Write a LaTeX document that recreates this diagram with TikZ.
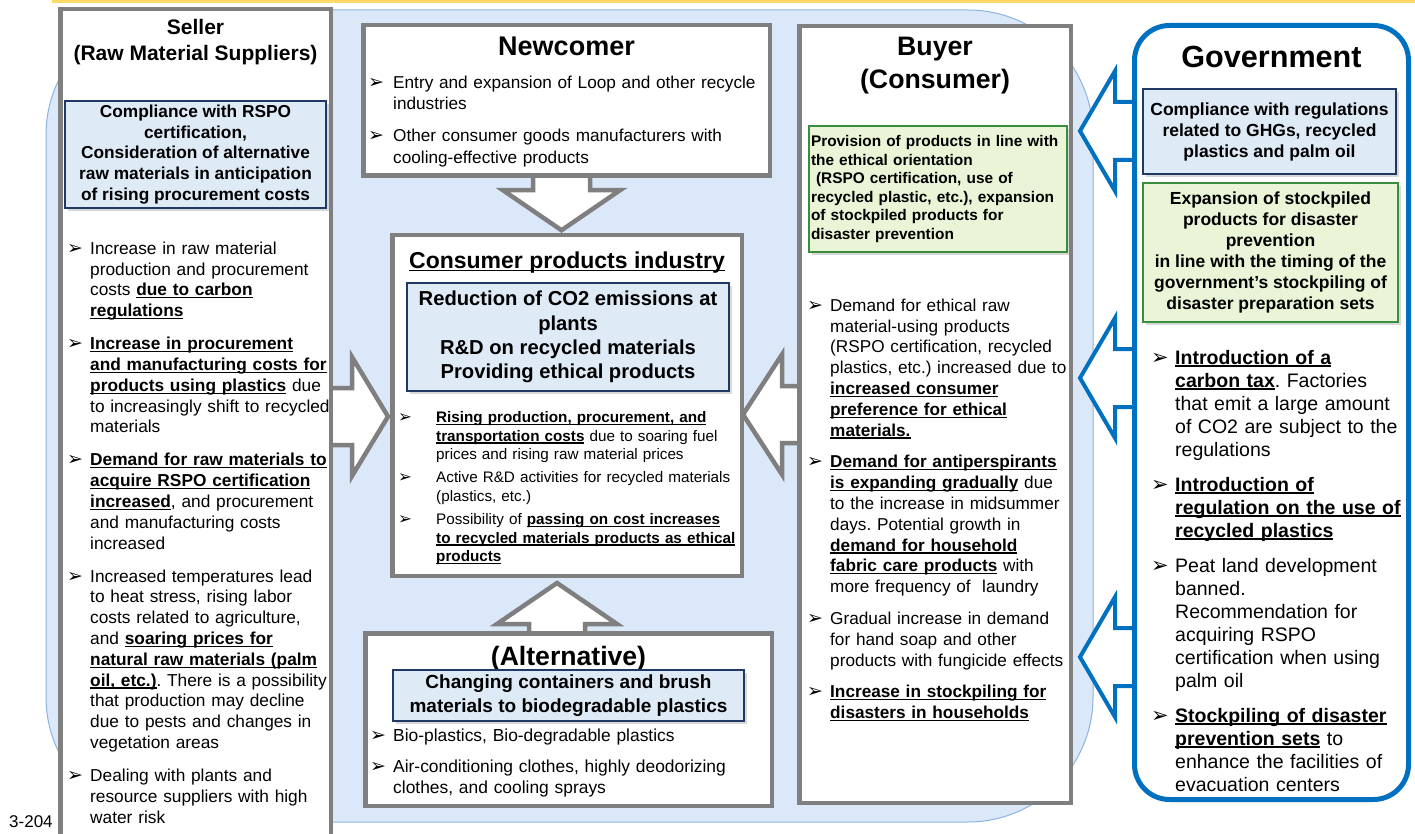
\documentclass[tikz,border=0pt]{standalone}
\usepackage{fontspec}
\setmainfont{Liberation Sans}
\newfontfamily\dv{DejaVu Sans}
\usetikzlibrary{calc,shadows}
\frenchspacing
\newsavebox\ulbox
\newcommand\myul[1]{\sbox\ulbox{#1}\rlap{\rule[-2.4pt]{\wd\ulbox}{1.1pt}}\usebox\ulbox}
\definecolor{bgblue}{HTML}{DAE8F9}
\definecolor{bgline}{HTML}{8DB3E2}
\definecolor{topyellow}{HTML}{FFD966}
\definecolor{boxgray}{HTML}{7F7F7F}
\definecolor{govblue}{HTML}{0070C0}
\definecolor{navy}{HTML}{1F3864}
\definecolor{lightblue}{HTML}{DEEBF7}
\definecolor{darkgreen}{HTML}{388E3C}
\definecolor{lightgreen}{HTML}{E9F5D6}
\pgfdeclarelayer{bglayer}
\pgfdeclarelayer{arrlayer}
\pgfsetlayers{bglayer,arrlayer,main}
\newlength\bulw
\def\bulsz{12}
\newcommand\bul{\makebox[\bulw][l]{\dv\fontsize{\bulsz}{\bulsz}\selectfont ➢}}
\newcommand\bitem[1]{\noindent\hangindent=\bulw\hangafter=1\strut\bul #1\par}
\newcommand\ubf[1]{{\bfseries\myul{#1}}}
\newcommand\blockarrow[6]{%
  \coordinate (bah) at ($(#3)!#6!(#2)$);
  \draw[#1] ($(#2)!#4!90:(#3)$) -- ($(bah)!#4!90:(#3)$) -- ($(bah)!#5!90:(#3)$) -- (#3)
     -- ($(bah)!#5!-90:(#3)$) -- ($(bah)!#4!-90:(#3)$) -- ($(#2)!#4!-90:(#3)$);}
\begin{document}
\begin{tikzpicture}[x=1pt,y=-1pt,
  graybox/.style={draw=boxgray, line width=4.5pt, fill=white, inner sep=0, outer sep=0, rectangle},
  govbox/.style={draw=govblue, line width=5pt, fill=white, inner sep=0, outer sep=0, rounded corners=35},
  garrow/.style={draw=boxgray, line width=4.5pt, fill=white, line join=miter},
  barrow/.style={draw=govblue, line width=4pt, fill=white, line join=miter},
  bluebox/.style={draw=navy, line width=1.8pt, fill=lightblue, inner sep=0, outer sep=0, align=center,
     drop shadow={shadow xshift=3pt, shadow yshift=-3pt, opacity=0.3}},
  greenbox/.style={draw=darkgreen, line width=1.8pt, fill=lightgreen, inner sep=0, outer sep=0, align=center,
     drop shadow={shadow xshift=3pt, shadow yshift=-3pt, opacity=0.3}},
  listnode/.style={anchor=north west, inner sep=0, align=left},
  title/.style={inner sep=0, align=center, font=\bfseries}
]
\useasboundingbox (0,0) rectangle (1415,834);
\clip (0,0) rectangle (1415,834);
\begin{pgfonlayer}{bglayer}
\path[draw=bgline, line width=1pt, fill=bgblue, rounded corners=125] (46,10) rectangle (1093,822);
\fill[topyellow] (52,0) rectangle (1415,3.5);
\end{pgfonlayer}

% main boxes
\node[graybox, minimum width=270.5, minimum height=840.75] (seller) at (195.5,429.6) {};
\node[graybox, minimum width=406.5, minimum height=150.5] (newcomer) at (566.5,100.5) {};
\node[graybox, minimum width=349.5, minimum height=340.5] (industry) at (567,405.5) {};
\node[graybox, minimum width=406.5, minimum height=172.5] (alt) at (568.5,719.5) {};
\node[graybox, minimum width=271.5, minimum height=776.5] (buyer) at (935,414.5) {};
\node[govbox, minimum width=274, minimum height=774] (gov) at (1271.5,412.5) {};

% block arrows
\begin{pgfonlayer}{arrlayer}
\coordinate (a1b) at ($(newcomer.south)+(-5,0)$);
\coordinate (a1t) at ($(industry.north)+(-5.5,-5)$);
\blockarrow{garrow}{a1b}{a1t}{28.5pt}{58.5pt}{40pt}
\coordinate (a2b) at ($(alt.north)+(-11.5,0)$);
\coordinate (a2t) at ($(industry.south)+(-10,7.25)$);
\blockarrow{garrow}{a2b}{a2t}{28pt}{60pt}{41pt}
\coordinate (a3b) at ($(seller.east)+(0,-13.1)$);
\coordinate (a3t) at ($(industry.west)+(-4.25,11)$);
\blockarrow{garrow}{a3b}{a3t}{28.5pt}{59.5pt}{36pt}
\coordinate (a4b) at ($(buyer.west)+(0,0)$);
\coordinate (a4t) at ($(industry.east)+(1.25,9)$);
\blockarrow{garrow}{a4b}{a4t}{28.5pt}{60pt}{39pt}
\coordinate (g1b) at ($(gov.west)+(0,-281.5)$);
\coordinate (g1t) at ($(buyer.east)+(9.25,-283.5)$);
\blockarrow{barrow}{g1b}{g1t}{29pt}{60pt}{35pt}
\coordinate (g2b) at ($(gov.west)+(0,-34.5)$);
\coordinate (g2t) at ($(buyer.east)+(9.25,-36.5)$);
\blockarrow{barrow}{g2b}{g2t}{29pt}{60pt}{35pt}
\coordinate (g3b) at ($(gov.west)+(0,244.5)$);
\coordinate (g3t) at ($(buyer.east)+(9.25,242.5)$);
\blockarrow{barrow}{g3b}{g3t}{29pt}{60pt}{35pt}
\end{pgfonlayer}

% titles
\node[title, font=\fontsize{21}{26}\selectfont\bfseries] (sellerT) at (195.5,42) {Seller\\(Raw Material Suppliers)};
\node[title, font=\fontsize{27}{32}\selectfont\bfseries, anchor=base] (newT) at (566.5,55.6) {Newcomer};
\node[title, font=\fontsize{23}{27}\selectfont\bfseries, anchor=base] (indT) at (567,268.5) {\myul{Consumer products industry}};
\node[title, font=\fontsize{26.6}{31}\selectfont\bfseries, anchor=base] (altT) at (568.5,665.5) {(Alternative)};
\node[title, font=\fontsize{26.7}{33}\selectfont\bfseries] (buyerT) at (935,65.3) {Buyer\\(Consumer)};
\node[title, font=\fontsize{30.6}{36}\selectfont\bfseries, anchor=base] (govT) at (1271.5,67.8) {Government};
\node[inner sep=0, anchor=base west, font=\fontsize{17}{20}\selectfont] (page) at (9,827) {3-204};

% key boxes
\node[bluebox, minimum width=261, minimum height=107, font=\fontsize{17.3}{20.7}\selectfont\bfseries] (sellerK) at (195.5,154.5)
  {Compliance with RSPO\\certification,\\Consideration of alternative\\raw materials in anticipation\\of rising procurement costs};
\node[bluebox, minimum width=322, minimum height=108, font=\fontsize{20.2}{24.2}\selectfont\bfseries] (indK) at (568,337)
  {Reduction of CO2 emissions at\\plants\\R\&D on recycled materials\\Providing ethical products};
\node[bluebox, minimum width=351, minimum height=51, font=\fontsize{19}{24}\selectfont\bfseries] (altK) at (568.5,695.5)
  {Changing containers and brush\\materials to biodegradable plastics};
\node[bluebox, minimum width=253, minimum height=85, font=\fontsize{17.5}{21}\selectfont\bfseries] (govK) at (1269.5,131.5)
  {Compliance with regulations\\related to GHGs, recycled\\plastics and palm oil};
\node[greenbox, minimum width=255, minimum height=139, font=\fontsize{17.5}{20.9}\selectfont\bfseries] (govG) at (1270.5,252.5)
  {Expansion of stockpiled\\products for disaster\\prevention\\in line with the timing of the\\government's stockpiling of\\disaster preparation sets};
\node[greenbox, minimum width=258, minimum height=126, inner xsep=2pt, text width=254pt, align=left,
  font=\fontsize{15.4}{18.5}\selectfont\bfseries] (buyerG) at (938,189)
  {Provision of products in line with\\the ethical orientation\\\hspace*{5pt}(RSPO certification, use of\\recycled plastic, etc.), expansion\\of stockpiled products for\\disaster prevention};

% bullet lists
\node[listnode, text width=270pt, font=\fontsize{17.3}{20.8}\selectfont] (sellerL) at (67,239.6) {%
\setlength\bulw{23pt}\setlength\parskip{12.2pt}\def\bulsz{19}%
\bitem{Increase in raw material\newline production and procurement\newline costs \ubf{due to carbon}\newline \ubf{regulations}}
\bitem{\ubf{Increase in procurement}\newline \ubf{and manufacturing costs for}\newline \ubf{products using plastics} due\newline to increasingly shift to recycled\newline materials}
\bitem{\ubf{Demand for raw materials to}\newline \ubf{acquire RSPO certification}\newline \ubf{increased}, and procurement\newline and manufacturing costs\newline increased}
\bitem{Increased temperatures lead\newline to heat stress, rising labor\newline costs related to agriculture,\newline and \ubf{soaring prices for}\newline \ubf{natural raw materials (palm}\newline \ubf{oil, etc.)}. There is a possibility\newline that production may decline\newline due to pests and changes in\newline vegetation areas}
\bitem{Dealing with plants and\newline resource suppliers with high\newline water risk}};

\node[listnode, text width=400pt, font=\fontsize{17.2}{21.5}\selectfont] (newL) at (368,73.2) {%
\setlength\bulw{25pt}\setlength\parskip{10.5pt}\def\bulsz{19}%
\bitem{Entry and expansion of Loop and other recycle\newline industries}
\bitem{Other consumer goods manufacturers with\newline cooling-effective products}};

\node[listnode, text width=345pt, font=\fontsize{15.25}{18.4}\selectfont] (indL) at (398,409.7) {%
\setlength\bulw{38pt}\setlength\parskip{5pt}\def\bulsz{16.5}%
\bitem{\ubf{Rising production, procurement, and}\newline \ubf{transportation costs} due to soaring fuel\newline prices and rising raw material prices}
\bitem{Active R\&D activities for recycled materials\newline (plastics, etc.)}
\bitem{Possibility of \ubf{passing on cost increases}\newline \ubf{to recycled materials products as ethical}\newline \ubf{products}}};

\node[listnode, text width=400pt, font=\fontsize{17.4}{21}\selectfont] (altL) at (370,726.5) {%
\setlength\bulw{23pt}\setlength\parskip{10pt}\def\bulsz{19}%
\bitem{Bio-plastics, Bio-degradable plastics}
\bitem{Air-conditioning clothes, highly deodorizing\newline clothes, and cooling sprays}};

\node[listnode, text width=265pt, font=\fontsize{17.2}{20.8}\selectfont] (buyerL) at (807,296.6) {%
\setlength\bulw{23pt}\setlength\parskip{11pt}\def\bulsz{19}%
\bitem{Demand for ethical raw\newline material-using products\newline (RSPO certification, recycled\newline plastics, etc.) increased due to\newline \ubf{increased consumer}\newline \ubf{preference for ethical}\newline \ubf{materials.}}
\bitem{\ubf{Demand for antiperspirants}\newline \ubf{is expanding gradually} due\newline to the increase in midsummer\newline days. Potential growth in\newline \ubf{demand for household}\newline \ubf{fabric care products} with\newline more frequency of\ \ laundry}
\bitem{Gradual increase in demand\newline for hand soap and other\newline products with fungicide effects}
\bitem{\ubf{Increase in stockpiling for}\newline \ubf{disasters in households}}};

\node[listnode, text width=260pt, font=\fontsize{19.5}{23}\selectfont] (govL) at (1151,347.8) {%
\setlength\bulw{24pt}\setlength\parskip{12pt}\def\bulsz{21}%
\bitem{\ubf{Introduction of a}\newline \ubf{carbon tax}. Factories\newline that emit a large amount\newline of CO2 are subject to the\newline regulations}
\bitem{\ubf{Introduction of}\newline \ubf{regulation on the use of}\newline \ubf{recycled plastics}}
\bitem{Peat land development\newline banned.\newline Recommendation for\newline acquiring RSPO\newline certification when using\newline palm oil}
\bitem{\ubf{Stockpiling of disaster}\newline \ubf{prevention sets} to\newline enhance the facilities of\newline evacuation centers}};
\end{tikzpicture}
\end{document}
